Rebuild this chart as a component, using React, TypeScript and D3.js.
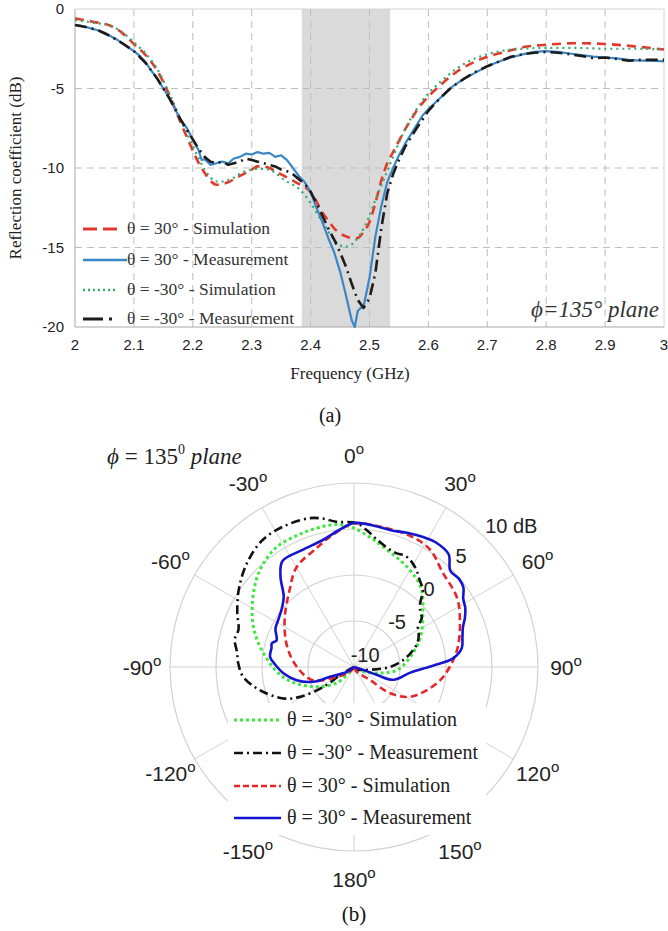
import React from "react";
import * as d3 from "d3";

// ---------- (a) Reflection coefficient data ----------
const xTicks = [2, 2.1, 2.2, 2.3, 2.4, 2.5, 2.6, 2.7, 2.8, 2.9, 3];
const yTicks = [0, -5, -10, -15, -20];
const bandStart = 2.385;
const bandEnd = 2.535;

const simP30F = [2.0, 2.03, 2.06, 2.08, 2.1, 2.12, 2.14, 2.16, 2.18, 2.2, 2.21, 2.22, 2.23, 2.24, 2.25, 2.26, 2.27, 2.28, 2.29, 2.3, 2.31, 2.32, 2.33, 2.34, 2.35, 2.36, 2.37, 2.38, 2.39, 2.4, 2.41, 2.42, 2.43, 2.44, 2.45, 2.46, 2.47, 2.48, 2.49, 2.5, 2.51, 2.52, 2.53, 2.54, 2.55, 2.56, 2.57, 2.58, 2.6, 2.62, 2.65, 2.68, 2.7, 2.73, 2.76, 2.8, 2.85, 2.9, 2.95, 3.0];
const simP30 = [-0.6, -0.8, -1.05, -1.5, -2.2, -2.9, -3.9, -5.4, -7.2, -8.9, -9.7, -10.3, -10.8, -11.05, -11.0, -10.9, -10.7, -10.5, -10.3, -10.1, -9.9, -9.9, -10.0, -10.2, -10.4, -10.6, -10.8, -11.0, -11.2, -11.5, -12.1, -12.8, -13.3, -13.8, -14.1, -14.3, -14.4, -14.4, -14.0, -13.4, -12.2, -10.8, -9.7, -9.0, -8.3, -7.6, -7.0, -6.4, -5.5, -4.8, -3.9, -3.3, -3.0, -2.7, -2.4, -2.25, -2.15, -2.2, -2.35, -2.55];

const simM30F = [2.0, 2.03, 2.06, 2.08, 2.1, 2.12, 2.14, 2.16, 2.18, 2.2, 2.21, 2.22, 2.23, 2.24, 2.25, 2.26, 2.27, 2.28, 2.29, 2.3, 2.31, 2.32, 2.33, 2.34, 2.35, 2.36, 2.37, 2.38, 2.39, 2.4, 2.41, 2.42, 2.43, 2.44, 2.45, 2.46, 2.47, 2.48, 2.49, 2.5, 2.51, 2.52, 2.53, 2.54, 2.55, 2.56, 2.58, 2.6, 2.62, 2.65, 2.68, 2.7, 2.73, 2.76, 2.8, 2.85, 2.9, 2.95, 3.0];
const simM30 = [-0.7, -0.85, -1.05, -1.45, -2.1, -2.8, -3.8, -5.3, -7.0, -8.6, -9.4, -10.1, -10.6, -10.85, -10.85, -10.75, -10.6, -10.35, -10.2, -10.1, -10.05, -10.05, -10.1, -10.3, -10.6, -10.85, -11.05, -11.3, -11.7, -12.2, -12.8, -13.4, -14.0, -14.5, -14.85, -14.95, -14.8, -14.4, -13.8, -13.0, -12.0, -11.1, -10.2, -9.3, -8.4, -7.6, -6.3, -5.3, -4.6, -3.7, -3.1, -2.85, -2.6, -2.5, -2.45, -2.45, -2.5, -2.5, -2.55];

const measP30F = [2.0, 2.01, 2.02, 2.03, 2.04, 2.05, 2.06, 2.07, 2.08, 2.09, 2.1, 2.11, 2.12, 2.13, 2.14, 2.15, 2.16, 2.17, 2.18, 2.19, 2.2, 2.21, 2.215, 2.22, 2.23, 2.24, 2.25, 2.26, 2.27, 2.28, 2.29, 2.3, 2.31, 2.32, 2.33, 2.34, 2.35, 2.36, 2.37, 2.38, 2.39, 2.4, 2.41, 2.42, 2.43, 2.44, 2.45, 2.46, 2.47, 2.475, 2.48, 2.485, 2.49, 2.5, 2.51, 2.52, 2.53, 2.54, 2.55, 2.56, 2.57, 2.58, 2.59, 2.6, 2.62, 2.64, 2.66, 2.68, 2.7, 2.72, 2.74, 2.76, 2.78, 2.8, 2.82, 2.84, 2.86, 2.88, 2.9, 2.92, 2.94, 2.96, 2.98, 3.0];
const measP30 = [-1.0, -1.05, -1.15, -1.25, -1.35, -1.5, -1.7, -1.9, -2.15, -2.4, -2.65, -2.95, -3.35, -3.9, -4.4, -5.0, -5.6, -6.3, -7.0, -7.5, -8.2, -8.9, -9.5, -9.45, -9.8, -9.7, -9.6, -9.7, -9.4, -9.3, -9.1, -9.15, -9.0, -9.1, -9.05, -9.3, -9.2, -9.5, -10.0, -10.5, -10.9, -11.5, -12.5, -13.4, -14.4, -15.3, -16.5, -18.0, -19.6, -20.0, -19.0, -18.8, -18.7, -16.9, -14.3, -12.4, -10.9, -10.0, -9.2, -8.5, -7.9, -7.3, -6.7, -6.3, -5.6, -4.9, -4.4, -4.0, -3.6, -3.3, -3.05, -2.85, -2.7, -2.65, -2.7, -2.8, -2.9, -3.0, -3.05, -3.1, -3.2, -3.25, -3.25, -3.3];

const measM30F = [2.0, 2.02, 2.04, 2.06, 2.08, 2.1, 2.12, 2.14, 2.15, 2.16, 2.17, 2.18, 2.19, 2.2, 2.21, 2.22, 2.23, 2.24, 2.25, 2.26, 2.27, 2.28, 2.29, 2.3, 2.31, 2.32, 2.33, 2.34, 2.35, 2.36, 2.37, 2.38, 2.39, 2.4, 2.41, 2.42, 2.43, 2.44, 2.45, 2.46, 2.47, 2.48, 2.49, 2.5, 2.51, 2.52, 2.53, 2.54, 2.55, 2.56, 2.58, 2.6, 2.62, 2.64, 2.66, 2.68, 2.7, 2.72, 2.74, 2.76, 2.78, 2.8, 2.82, 2.84, 2.86, 2.88, 2.9, 2.92, 2.94, 2.96, 2.98, 3.0];
const measM30 = [-1.0, -1.15, -1.35, -1.7, -2.15, -2.65, -3.4, -4.4, -5.0, -5.6, -6.3, -7.0, -7.6, -8.2, -8.8, -9.3, -9.6, -9.7, -9.6, -9.8, -9.7, -9.6, -9.4, -9.5, -9.6, -9.7, -9.8, -9.9, -10.1, -10.2, -10.4, -10.7, -11.0, -11.5, -12.2, -13.0, -13.8, -14.5, -15.3, -16.2, -17.3, -18.3, -18.8, -18.2, -16.6, -13.8, -11.6, -10.4, -9.5, -8.7, -7.5, -6.4, -5.6, -4.9, -4.4, -3.95, -3.6, -3.3, -3.0, -2.85, -2.75, -2.7, -2.75, -2.85, -2.95, -3.1, -3.05, -3.15, -3.25, -3.2, -3.2, -3.2];

const legendA = [
  "θ = 30° - Simulation",
  "θ = 30° - Measurement",
  "θ = -30° - Simulation",
  "θ = -30° - Measurement",
];

// ---------- (b) Polar pattern data (angle deg, gain dB) ----------
const ringValues = [-5, 0, 5, 10];
const ringLabels = ["-10", "-5", "0", "5", "10 dB"];
const ringLabelValues = [-10, -5, 0, 5, 10];
const spokeAngles = [0, 30, 60, 90, 120, 150, 180, 210, 240, 270, 300, 330];
const angleLabelValues = [0, 30, 60, 90, 120, 150, 180, -150, -120, -90, -60, -30];

const polSimM30Ang = [-180, -133, -114, -98, -81, -68, -55, -44, -33, -21, -10, -5, 0, 7, 14, 28, 40, 52, 66, 80, 94, 103, 140, 180];
const polSimM30 = [-10, -7.5, -4.8, -2.2, 0.0, 1.8, 3.4, 4.7, 5.5, 5.6, 5.65, 5.5, 5.1, 4.2, 3.4, 2.3, 1.3, -0.5, -2.1, -3.8, -5.3, -7.1, -9.6, -10];

const polMeasM30Ang = [-180, -119, -123, -119, -114, -104, -95, -88, -83, -77, -72, -65, -56, -46, -36, -27, -17, -12, -7, 1, 6, 10, 15, 20, 25, 29, 33, 37, 42, 46, 50, 54, 58, 63, 68, 74, 82, 90, 103, 140, 180];
const polMeasM30 = [-10, -8.6, -6.0, -3.3, -1.6, 0.5, 2.1, 2.6, 2.8, 3.3, 3.2, 4.0, 5.1, 6.2, 7.0, 7.1, 6.9, 6.5, 5.9, 5.65, 4.8, 4.1, 3.5, 3.2, 3.3, 3.0, 2.5, 1.85, 1.2, 0.0, -0.6, -0.9, -1.8, -2.1, -2.5, -3.3, -4.6, -6.1, -8.6, -9.7, -10];

const polSimP30Ang = [-180, -140, -120, -108, -90, -73, -56, -40, -30, -17, -8, 0, 12, 24, 33, 43, 56, 66, 79, 90, 101, 118, 126, 129, 150, 180];
const polSimP30 = [-10, -9.3, -7.9, -5.3, -3.8, -2.4, -0.9, 0.9, 2.5, 3.6, 4.7, 5.6, 5.5, 5.5, 5.2, 4.1, 3.5, 2.6, 1.5, 0.4, -0.8, -3.1, -5.2, -7.8, -9.4, -10];

const polMeasP30Ang = [-180, -125, -112, -110, -103, -95, -88, -83, -77, -74, -71, -64, -58, -51, -45, -39, -34, -24, -14, -6, 0, 8, 15, 22, 28, 33, 40, 45, 50, 54, 58, 62, 66, 70, 75, 80, 85, 89, 96, 108, 109, 108, 180];
const polMeasP30 = [-10, -9.1, -7.2, -5.3, -3.6, -2.3, -1.4, -0.8, -0.8, -0.7, -1.1, -0.5, -0.3, 0.1, 0.8, 2.7, 3.9, 3.9, 4.2, 5.0, 5.65, 5.5, 5.4, 5.7, 6.0, 6.2, 6.0, 4.8, 4.9, 4.7, 4.0, 3.7, 3.2, 2.6, 2.2, 1.9, 0.8, -1.4, -3.9, -5.5, -7.4, -9.0, -10];

const legendB = [
  "θ = -30° - Simulation",
  "θ = -30° - Measurement",
  "θ = 30° - Simulation",
  "θ = 30° - Measurement",
];

const SERIF = "'Liberation Serif', 'Times New Roman', serif";
const SANS = "'Liberation Sans', Arial, sans-serif";

export default function App() {
  // ----- chart (a) -----
  const x = d3.scaleLinear().domain([2, 3]).range([75, 664]);
  const y = d3.scaleLinear().domain([-20, 0]).range([327, 9]);

  const smooth = d3
    .line<[number, number]>()
    .x((d) => x(d[0]))
    .y((d) => y(d[1]))
    .curve(d3.curveMonotoneX);
  const raw = d3
    .line<[number, number]>()
    .x((d) => x(d[0]))
    .y((d) => y(d[1]));

  const zip = (a: number[], b: number[]) => a.map((v, i) => [v, b[i]] as [number, number]);

  const stylesA = [
    { stroke: "#e2392c", width: 2.6, dash: "9,6" },
    { stroke: "#3b86c6", width: 2.2, dash: "" },
    { stroke: "#35a86b", width: 2.2, dash: "2,4" },
    { stroke: "#1c1c1c", width: 2.6, dash: "12,5,2,5" },
  ];
  const pathsA = [
    smooth(zip(simP30F, simP30)),
    raw(zip(measP30F, measP30)),
    smooth(zip(simM30F, simM30)),
    raw(zip(measM30F, measM30)),
  ];
  const drawOrderA = [0, 2, 1, 3];

  // ----- chart (b) -----
  const cx = 354;
  const cy = 667;
  const R = 184;
  const r = d3.scaleLinear().domain([-10, 10]).range([0, R]);
  const radial = d3
    .lineRadial<[number, number]>()
    .angle((d) => (d[0] * Math.PI) / 180)
    .radius((d) => r(d[1]))
    .curve(d3.curveCatmullRom.alpha(0.5));
  const polar = (deg: number, rad: number) => [
    cx + rad * Math.sin((deg * Math.PI) / 180),
    cy - rad * Math.cos((deg * Math.PI) / 180),
  ];

  const stylesB = [
    { stroke: "#3ee63e", width: 3, dash: "3,3" },
    { stroke: "#111111", width: 2.6, dash: "9,4,2,4" },
    { stroke: "#e4262b", width: 2.6, dash: "7,4" },
    { stroke: "#1515cf", width: 2.6, dash: "" },
  ];
  const pathsB = [
    radial(zip(polSimM30Ang, polSimM30)),
    radial(zip(polMeasM30Ang, polMeasM30)),
    radial(zip(polSimP30Ang, polSimP30)),
    radial(zip(polMeasP30Ang, polMeasP30)),
  ];

  const legendYA = [229, 260, 290, 319];
  const legendYB = [720, 753, 786, 818];

  return (
    <svg
      width={668}
      height={931}
      style={{ position: "absolute", left: 0, top: 0, background: "#fff" }}
    >
      <rect x={0} y={0} width={668} height={931} fill="#fff" />
      {/* ======== (a) ======== */}
      <rect
        x={x(bandStart)}
        y={y(0)}
        width={x(bandEnd) - x(bandStart)}
        height={y(-20) - y(0)}
        fill="#dadada"
      />
      {xTicks.slice(1, -1).map((t) => (
        <line key={"vx" + t} x1={x(t)} x2={x(t)} y1={y(0)} y2={y(-20)} stroke="#bdbdbd" strokeWidth={1} strokeDasharray="7,5" />
      ))}
      {yTicks.slice(1, -1).map((t) => (
        <line key={"hy" + t} x1={x(2)} x2={x(3)} y1={y(t)} y2={y(t)} stroke="#bdbdbd" strokeWidth={1} strokeDasharray="7,5" />
      ))}
      <line x1={x(2)} x2={x(3)} y1={y(0)} y2={y(0)} stroke="#d4d4d4" strokeWidth={1} />
      <line x1={x(3)} x2={x(3)} y1={y(0)} y2={y(-20)} stroke="#d4d4d4" strokeWidth={1} />
      <line x1={x(2)} x2={x(2)} y1={y(0)} y2={y(-20)} stroke="#a8a8a8" strokeWidth={1} />
      <line x1={x(2)} x2={x(3)} y1={y(-20)} y2={y(-20)} stroke="#a8a8a8" strokeWidth={1} />

      {drawOrderA.map((i) => (
        <path
          key={"a" + i}
          d={pathsA[i] || ""}
          fill="none"
          stroke={stylesA[i].stroke}
          strokeWidth={stylesA[i].width}
          strokeDasharray={stylesA[i].dash || undefined}
          strokeLinejoin="round"
        />
      ))}

      {xTicks.map((t) => (
        <text key={"xt" + t} x={x(t)} y={350} textAnchor="middle" fontFamily={SANS} fontSize={15} fill="#222">
          {String(t)}
        </text>
      ))}
      {yTicks.map((t) => (
        <text key={"yt" + t} x={64} y={y(t) + 5} textAnchor="end" fontFamily={SANS} fontSize={15} fill="#222">
          {String(t)}
        </text>
      ))}
      <text x={350} y={379} textAnchor="middle" fontFamily={SERIF} fontSize={17} fill="#222">
        Frequency (GHz)
      </text>
      <text
        transform={`translate(21,${y(-10)}) rotate(-90)`}
        textAnchor="middle"
        fontFamily={SERIF}
        fontSize={17}
        fill="#222"
      >
        Reflection coefficient (dB)
      </text>

      {legendA.map((lab, i) => (
        <g key={"la" + i}>
          <line
            x1={83}
            x2={i === 1 ? 127 : 118}
            y1={legendYA[i]}
            y2={legendYA[i]}
            stroke={stylesA[i].stroke}
            strokeWidth={stylesA[i].width + 0.4}
            strokeDasharray={i === 0 ? "14,6" : i === 2 ? "2,3" : i === 3 ? "20,6,3,10" : undefined}
          />
          <text x={127} y={legendYA[i] + 5} fontFamily={SERIF} fontSize={17.5} fill="#333">
            {lab}
          </text>
        </g>
      ))}

      <text x={659} y={317} textAnchor="end" fontFamily={SERIF} fontSize={23} fontStyle="italic" fill="#333">
        ϕ=135° plane
      </text>

      <text x={330} y={422} textAnchor="middle" fontFamily={SERIF} fontSize={20} fill="#111">
        (a)
      </text>

      {/* ======== (b) ======== */}
      <text x={107} y={464} fontFamily={SERIF} fontSize={23} fill="#222">
        <tspan fontStyle="italic">ϕ</tspan>
        <tspan> = 135</tspan>
        <tspan fontSize={14} dy={-10}>0</tspan>
        <tspan dy={10} fontStyle="italic"> plane</tspan>
      </text>

      {spokeAngles.map((a) => {
        const [px, py] = polar(a, R);
        return <line key={"sp" + a} x1={cx} y1={cy} x2={px} y2={py} stroke="#d2d2d2" strokeWidth={1} />;
      })}
      {ringValues.map((v) => (
        <circle key={"rg" + v} cx={cx} cy={cy} r={r(v)} fill="none" stroke="#d2d2d2" strokeWidth={1.2} />
      ))}

      <g transform={`translate(${cx},${cy})`}>
        {pathsB.map((d, i) => (
          <path
            key={"b" + i}
            d={d || ""}
            fill="none"
            stroke={stylesB[i].stroke}
            strokeWidth={stylesB[i].width}
            strokeDasharray={stylesB[i].dash || undefined}
            strokeLinejoin="round"
          />
        ))}
      </g>

      {ringLabelValues.map((v, i) => {
        const last = i === ringLabelValues.length - 1;
        const [px, py] = polar(44, r(v) + (last ? 12 : 16));
        return (
          <text
            key={"rl" + v}
            x={last ? px - 5 : px}
            y={py + 7}
            textAnchor={last ? "start" : "middle"}
            fontFamily={SANS}
            fontSize={20}
            fill="#222"
          >
            {ringLabels[i]}
          </text>
        );
      })}

      {angleLabelValues.map((a) => {
        const [px, py] = polar(a, 212);
        return (
          <text key={"al" + a} x={px} y={py + 8} textAnchor="middle" fontFamily={SANS} fontSize={21} fill="#222">
            {String(a)}
            <tspan fontSize={15} dy={-9}>o</tspan>
          </text>
        );
      })}

      <rect x={228} y={703} width={258} height={132} fill="#fff" />
      {legendB.map((lab, i) => (
        <g key={"lb" + i}>
          <line
            x1={234}
            x2={281}
            y1={legendYB[i]}
            y2={legendYB[i]}
            stroke={stylesB[i].stroke}
            strokeWidth={stylesB[i].width}
            strokeDasharray={i === 0 ? "3,3" : i === 1 ? "9,4,2,4" : i === 2 ? "6,3" : undefined}
          />
          <text x={287} y={legendYB[i] + 6} fontFamily={SERIF} fontSize={20} fill="#222">
            {lab}
          </text>
        </g>
      ))}

      <text x={354} y={921} textAnchor="middle" fontFamily={SERIF} fontSize={21} fill="#111">
        (b)
      </text>
    </svg>
  );
}
